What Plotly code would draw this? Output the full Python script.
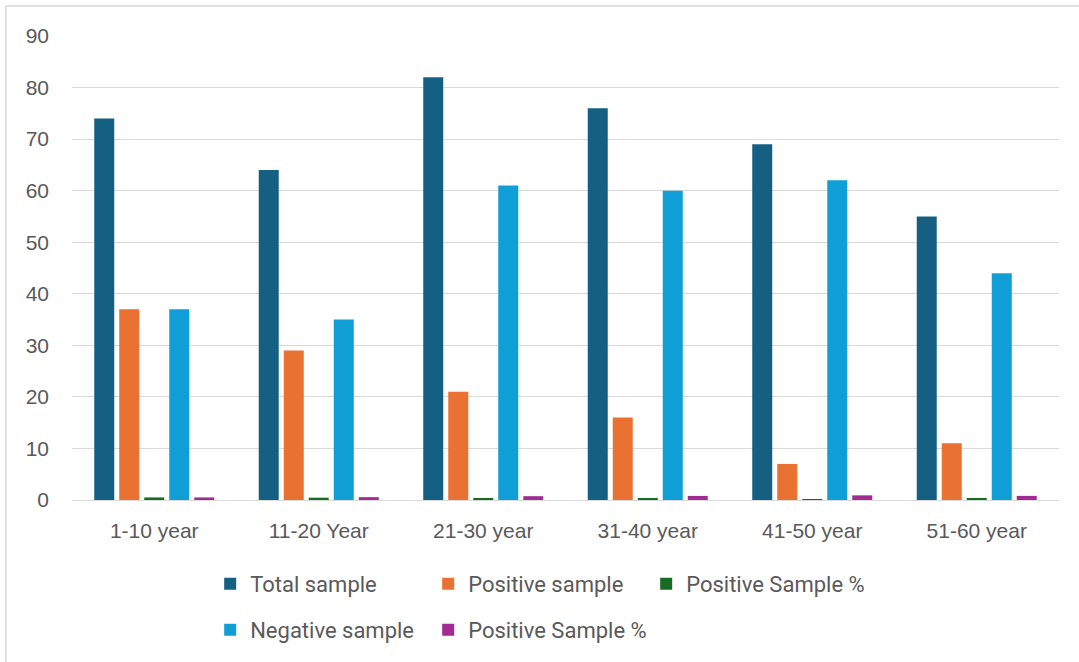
import plotly.graph_objects as go

categories = ["1-10 year", "11-20 Year", "21-30 year", "31-40 year", "41-50 year", "51-60 year"]
total_sample = [74, 64, 82, 76, 69, 55]
positive_sample = [37, 29, 21, 16, 7, 11]
positive_pct = [0.50, 0.45, 0.26, 0.21, 0.10, 0.20]
negative_sample = [37, 35, 61, 60, 62, 44]
negative_pct = [0.50, 0.55, 0.74, 0.79, 0.90, 0.80]
y_ticks = [0, 10, 20, 30, 40, 50, 60, 70, 80, 90]

series = [
    ("Total sample", total_sample, "#156082", "legend"),
    ("Positive sample", positive_sample, "#E97132", "legend"),
    ("Positive Sample %", positive_pct, "#196B24", "legend"),
    ("Negative sample", negative_sample, "#0F9ED5", "legend2"),
    ("Positive Sample %", negative_pct, "#A02B93", "legend2"),
]

fig = go.Figure()
for name, vals, color, leg in series:
    fig.add_trace(go.Bar(
        x=categories, y=vals, name=name, legend=leg,
        marker=dict(color=color, line=dict(width=0)),
    ))

legend_font = dict(family="Roboto, Liberation Sans, Arial", size=22, color="#595959")

fig.update_layout(
    width=1079, height=662,
    margin=dict(l=72, r=20, t=36, b=161),
    paper_bgcolor="white", plot_bgcolor="white",
    barmode="group", bargap=0.24, bargroupgap=0.2,
    font=dict(family="Liberation Sans, Arial", size=21, color="#595959"),
    xaxis=dict(
        showgrid=False, showline=True, linecolor="#d9d9d9", linewidth=1,
        ticks="", ticklabelstandoff=12, tickfont=dict(size=21, color="#595959"),
    ),
    yaxis=dict(
        range=[0, 90], tickvals=y_ticks, showgrid=True, gridcolor="#d9d9d9",
        gridwidth=1, zeroline=False, showline=False, ticks="",
        ticklabelstandoff=22, tickfont=dict(size=21, color="#595959"),
    ),
    legend=dict(
        orientation="h", x=0.140, xanchor="left", y=-0.133, yanchor="top",
        entrywidth=173, entrywidthmode="pixels", font=legend_font,
        bgcolor="rgba(0,0,0,0)",
    ),
    legend2=dict(
        orientation="h", x=0.140, xanchor="left", y=-0.232, yanchor="top",
        entrywidth=173, entrywidthmode="pixels", font=legend_font,
        bgcolor="rgba(0,0,0,0)",
    ),
    shapes=[dict(
        type="rect", xref="paper", yref="paper",
        x0=-0.067, x1=1.1, y0=-0.5, y1=1.0645,
        line=dict(color="#d9d9d9", width=1.5), fillcolor="rgba(0,0,0,0)",
        layer="below",
    )],
)

fig.write_html("out.html")
